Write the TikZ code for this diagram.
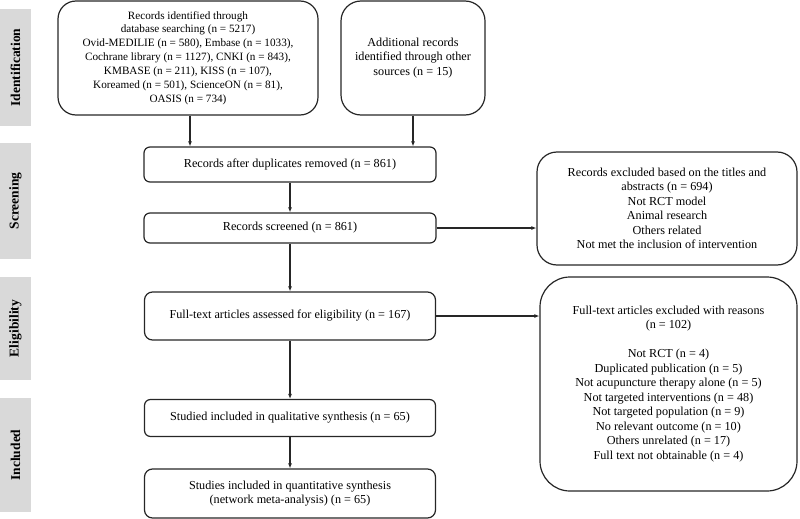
\documentclass[tikz,border=0pt]{standalone}
\usepackage{fontspec}
\setmainfont{Liberation Serif}
\usetikzlibrary{arrows.meta}

\begin{document}
\begin{tikzpicture}[x=1pt,y=-1pt,
    box/.style={draw=black!85, line width=1.2pt, align=center, inner sep=0pt,
      font=\fontsize{12.2}{14.5}\selectfont},
    side/.style={fill=black!15, rotate=90, minimum height=31pt, inner sep=0pt,
      font=\bfseries\fontsize{13.5}{14}\selectfont},
    arr/.style={-{Latex[length=5pt,width=4pt]}, line width=1.1pt, black!85}]
  \useasboundingbox (0,0) rectangle (800,519);

  \node (ident) [side, minimum width=117pt] at (15.5,67.5) {Identification};
  \node (scrn) [side, minimum width=116pt] at (15.5,201) {Screening};
  \node (elig) [side, minimum width=103pt] at (15.5,328.5) {Eligibility};
  \node (incl) [side, minimum width=114pt] at (15.5,455) {Included};

  \node (rec) [box, rounded corners=18pt, minimum width=260pt, minimum height=114pt,
      font=\fontsize{11.2}{13.9}\selectfont] at (188,58)
    {Records identified through\\ database searching (n = 5217)\\
     Ovid-MEDILIE (n = 580), Embase (n = 1033),\\
     Cochrane library (n = 1127), CNKI (n = 843),\\
     KMBASE (n = 211), KISS (n = 107),\\
     Koreamed (n = 501), ScienceON (n = 81),\\ OASIS (n = 734)};
  \node (add) [box, rounded corners=20pt, minimum width=144pt, minimum height=114pt] at (413,58)
    {Additional records\\ identified through other\\ sources (n = 15)};

  \node (dup) [box, rounded corners=6pt, minimum width=292pt, minimum height=35pt] at (290,164.5)
    {Records after duplicates removed (n = 861)};
  \node (scr) [box, rounded corners=6pt, minimum width=292pt, minimum height=30pt] at (290,228)
    {Records screened (n = 861)};
  \node (full) [box, rounded corners=8pt, minimum width=291pt, minimum height=48pt] at (290,316)
    {Full-text articles assessed for eligibility (n = 167)};
  \node (qual) [box, rounded corners=6pt, minimum width=291pt, minimum height=37pt] at (290,418)
    {Studied included in qualitative synthesis (n = 65)};
  \node (quant) [box, rounded corners=8pt, minimum width=291pt, minimum height=49pt] at (290,493.5)
    {Studies included in quantitative synthesis\\ (network meta-analysis) (n = 65)};

  \node (exa) [box, rounded corners=20pt, minimum width=260pt, minimum height=113pt] at (667,208.5)
    {Records excluded based on the titles and\\ abstracts (n = 694)\\ Not RCT model\\
     Animal research\\ Others related\\ Not met the inclusion of intervention};
  \node (exb) [box, rounded corners=30pt, minimum width=257pt, minimum height=214pt] at (668.5,384)
    {Full-text articles excluded with reasons\\ (n = 102)\\[14.5pt]
     Not RCT (n = 4)\\ Duplicated publication (n = 5)\\
     Not acupuncture therapy alone (n = 5)\\ Not targeted interventions (n = 48)\\
     Not targeted population (n = 9)\\ No relevant outcome (n = 10)\\
     Others unrelated (n = 17)\\ Full text not obtainable (n = 4)};

  \draw[arr] (190,0 |- rec.south) -- (190,0 |- dup.north);
  \draw[arr] (add.south) -- (add.south |- dup.north);
  \draw[arr] (dup) -- (scr);
  \draw[arr] (scr) -- (full);
  \draw[arr] (full) -- (qual);
  \draw[arr] (qual) -- (quant);
  \draw[arr] (scr.east) -- (scr.east -| exa.west);
  \draw[arr] (full.east) -- (full.east -| exb.west);
\end{tikzpicture}
\end{document}
